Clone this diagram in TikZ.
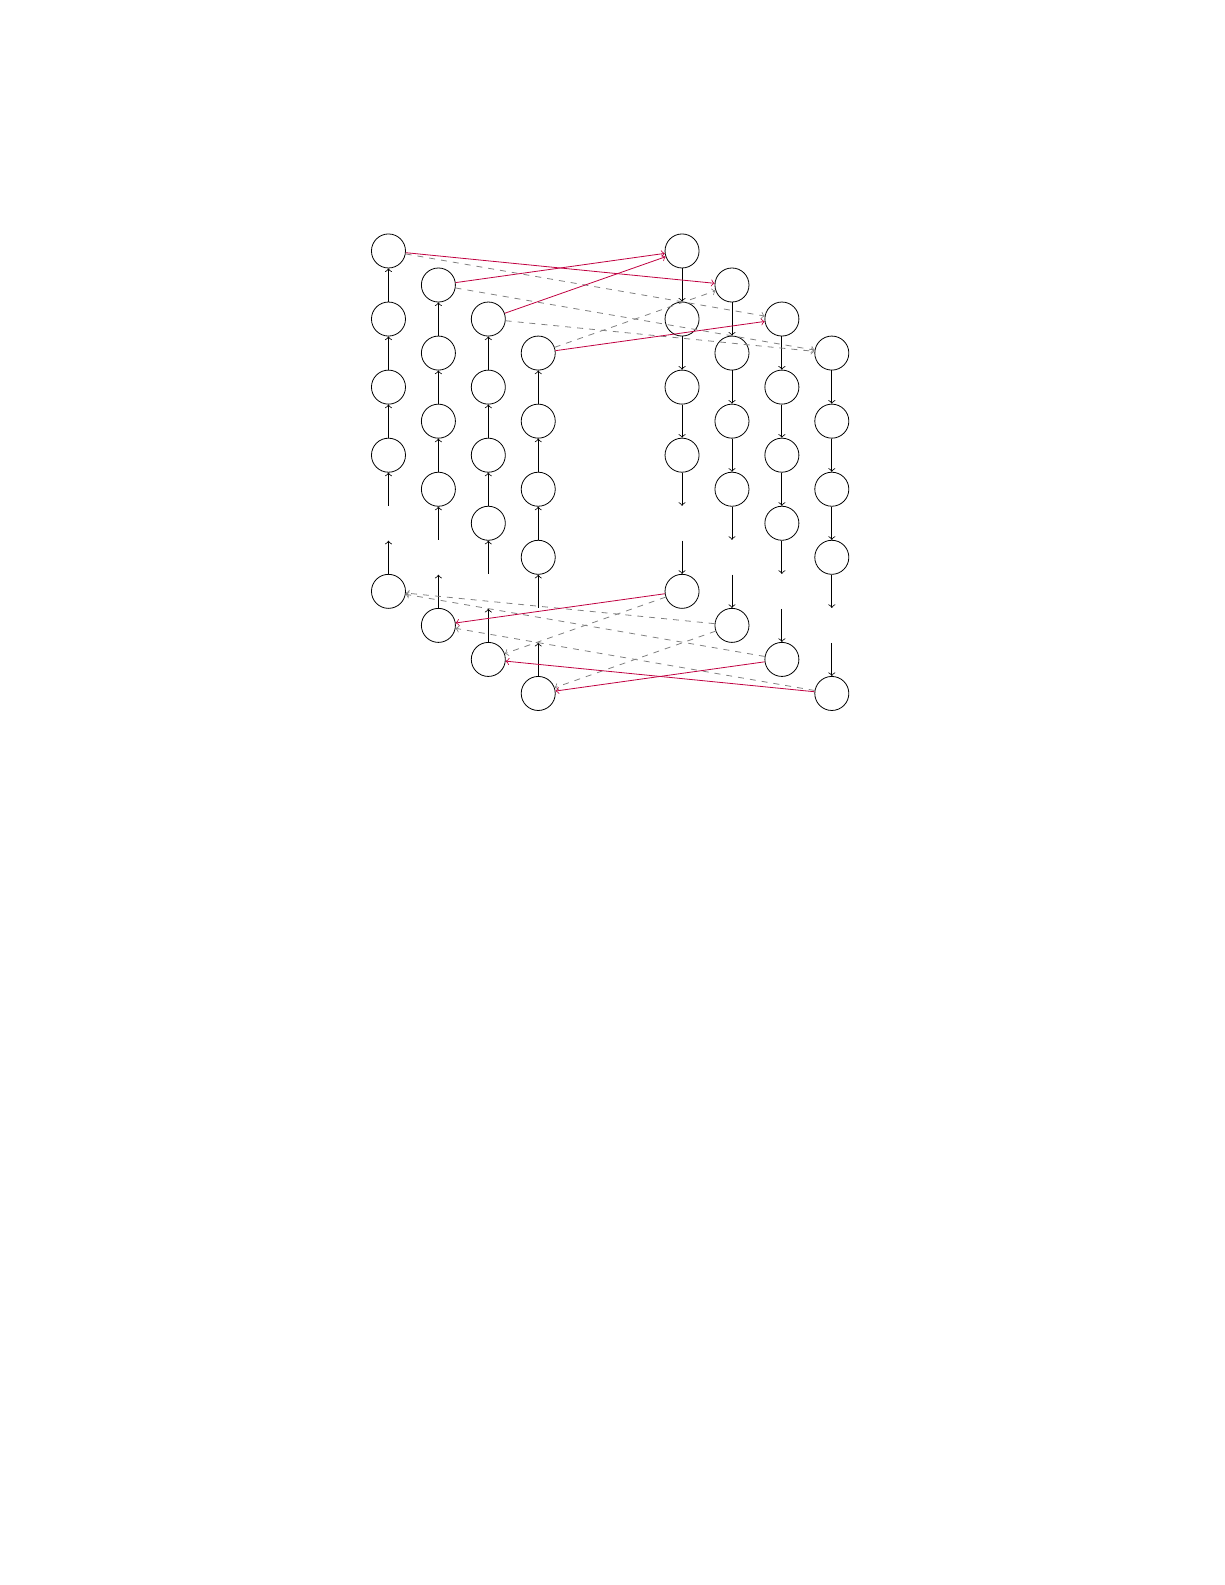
\documentclass[tikz,border=0pt]{standalone}
\usepackage{tikz}
\usetikzlibrary{arrows,positioning}

\begin{document}
\begin{tikzpicture}[node distance=1.2cm,auto, roundnode/.style={circle,draw,minimum size=6mm}, gapnode/.style={circle,minimum size=6mm}, bestedge/.style={purple}, altedge/.style={gray,dashed}]
  \useasboundingbox (-6.848,4.424) rectangle (14.742,-23.516);

  % upward columns
  \node[roundnode] (up1a) at (0,0) {};
  \node[roundnode] (up1b)[below of=up1a] {};
  \node[roundnode] (up1c)[below of=up1b] {};
  \node[roundnode] (up1d)[below of=up1c] {};
  \node[gapnode] (up1e)[below of=up1d] {};
  \node[roundnode] (up1f)[below of=up1e] {};

  \node[roundnode] (up2a) at (0.88,-0.6) {};
  \node[roundnode] (up2b)[below of=up2a] {};
  \node[roundnode] (up2c)[below of=up2b] {};
  \node[roundnode] (up2d)[below of=up2c] {};
  \node[gapnode] (up2e)[below of=up2d] {};
  \node[roundnode] (up2f)[below of=up2e] {};

  \node[roundnode] (up3a) at (1.76,-1.2) {};
  \node[roundnode] (up3b)[below of=up3a] {};
  \node[roundnode] (up3c)[below of=up3b] {};
  \node[roundnode] (up3d)[below of=up3c] {};
  \node[gapnode] (up3e)[below of=up3d] {};
  \node[roundnode] (up3f)[below of=up3e] {};

  \node[roundnode] (up4a) at (2.64,-1.8) {};
  \node[roundnode] (up4b)[below of=up4a] {};
  \node[roundnode] (up4c)[below of=up4b] {};
  \node[roundnode] (up4d)[below of=up4c] {};
  \node[gapnode] (up4e)[below of=up4d] {};
  \node[roundnode] (up4f)[below of=up4e] {};

  % downward columns
  \node[roundnode] (dn1a) at (5.175,0) {};
  \node[roundnode] (dn1b)[below of=dn1a] {};
  \node[roundnode] (dn1c)[below of=dn1b] {};
  \node[roundnode] (dn1d)[below of=dn1c] {};
  \node[gapnode] (dn1e)[below of=dn1d] {};
  \node[roundnode] (dn1f)[below of=dn1e] {};

  \node[roundnode] (dn2a) at (6.055,-0.6) {};
  \node[roundnode] (dn2b)[below of=dn2a] {};
  \node[roundnode] (dn2c)[below of=dn2b] {};
  \node[roundnode] (dn2d)[below of=dn2c] {};
  \node[gapnode] (dn2e)[below of=dn2d] {};
  \node[roundnode] (dn2f)[below of=dn2e] {};

  \node[roundnode] (dn3a) at (6.935,-1.2) {};
  \node[roundnode] (dn3b)[below of=dn3a] {};
  \node[roundnode] (dn3c)[below of=dn3b] {};
  \node[roundnode] (dn3d)[below of=dn3c] {};
  \node[gapnode] (dn3e)[below of=dn3d] {};
  \node[roundnode] (dn3f)[below of=dn3e] {};

  \node[roundnode] (dn4a) at (7.815,-1.8) {};
  \node[roundnode] (dn4b)[below of=dn4a] {};
  \node[roundnode] (dn4c)[below of=dn4b] {};
  \node[roundnode] (dn4d)[below of=dn4c] {};
  \node[gapnode] (dn4e)[below of=dn4d] {};
  \node[roundnode] (dn4f)[below of=dn4e] {};


  \path[->] (up1b) edge (up1a);
  \path[->] (up1c) edge (up1b);
  \path[->] (up1d) edge (up1c);
  \path[->] (up1e) edge (up1d);
  \path[->] (up1f) edge (up1e);

  \path[->] (up2b) edge (up2a);
  \path[->] (up2c) edge (up2b);
  \path[->] (up2d) edge (up2c);
  \path[->] (up2e) edge (up2d);
  \path[->] (up2f) edge (up2e);

  \path[->] (up3b) edge (up3a);
  \path[->] (up3c) edge (up3b);
  \path[->] (up3d) edge (up3c);
  \path[->] (up3e) edge (up3d);
  \path[->] (up3f) edge (up3e);

  \path[->] (up4b) edge (up4a);
  \path[->] (up4c) edge (up4b);
  \path[->] (up4d) edge (up4c);
  \path[->] (up4e) edge (up4d);
  \path[->] (up4f) edge (up4e);

  \path[->] (dn1a) edge (dn1b);
  \path[->] (dn1b) edge (dn1c);
  \path[->] (dn1c) edge (dn1d);
  \path[->] (dn1d) edge (dn1e);
  \path[->] (dn1e) edge (dn1f);

  \path[->] (dn2a) edge (dn2b);
  \path[->] (dn2b) edge (dn2c);
  \path[->] (dn2c) edge (dn2d);
  \path[->] (dn2d) edge (dn2e);
  \path[->] (dn2e) edge (dn2f);

  \path[->] (dn3a) edge (dn3b);
  \path[->] (dn3b) edge (dn3c);
  \path[->] (dn3c) edge (dn3d);
  \path[->] (dn3d) edge (dn3e);
  \path[->] (dn3e) edge (dn3f);

  \path[->] (dn4a) edge (dn4b);
  \path[->] (dn4b) edge (dn4c);
  \path[->] (dn4c) edge (dn4d);
  \path[->] (dn4d) edge (dn4e);
  \path[->] (dn4e) edge (dn4f);

  % crossings at the top
  \path[->,altedge] (up1a) edge (dn3a);
  \path[->,altedge] (up2a) edge (dn4a);
  \path[->,altedge] (up3a) edge (dn4a);
  \path[->,altedge] (up4a) edge (dn2a);
  \path[->,bestedge] (up1a) edge (dn2a);
  \path[->,bestedge] (up2a) edge (dn1a);
  \path[->,bestedge] (up3a) edge (dn1a);
  \path[->,bestedge] (up4a) edge (dn3a);

  % crossings at the bottom
  \path[->,altedge] (dn1f) edge (up3f);
  \path[->,altedge] (dn2f) edge (up1f);
  \path[->,altedge] (dn2f) edge (up4f);
  \path[->,altedge] (dn3f) edge (up1f);
  \path[->,altedge] (dn4f) edge (up2f);
  \path[->,bestedge] (dn1f) edge (up2f);
  \path[->,bestedge] (dn3f) edge (up4f);
  \path[->,bestedge] (dn4f) edge (up3f);
\end{tikzpicture}
\end{document}
